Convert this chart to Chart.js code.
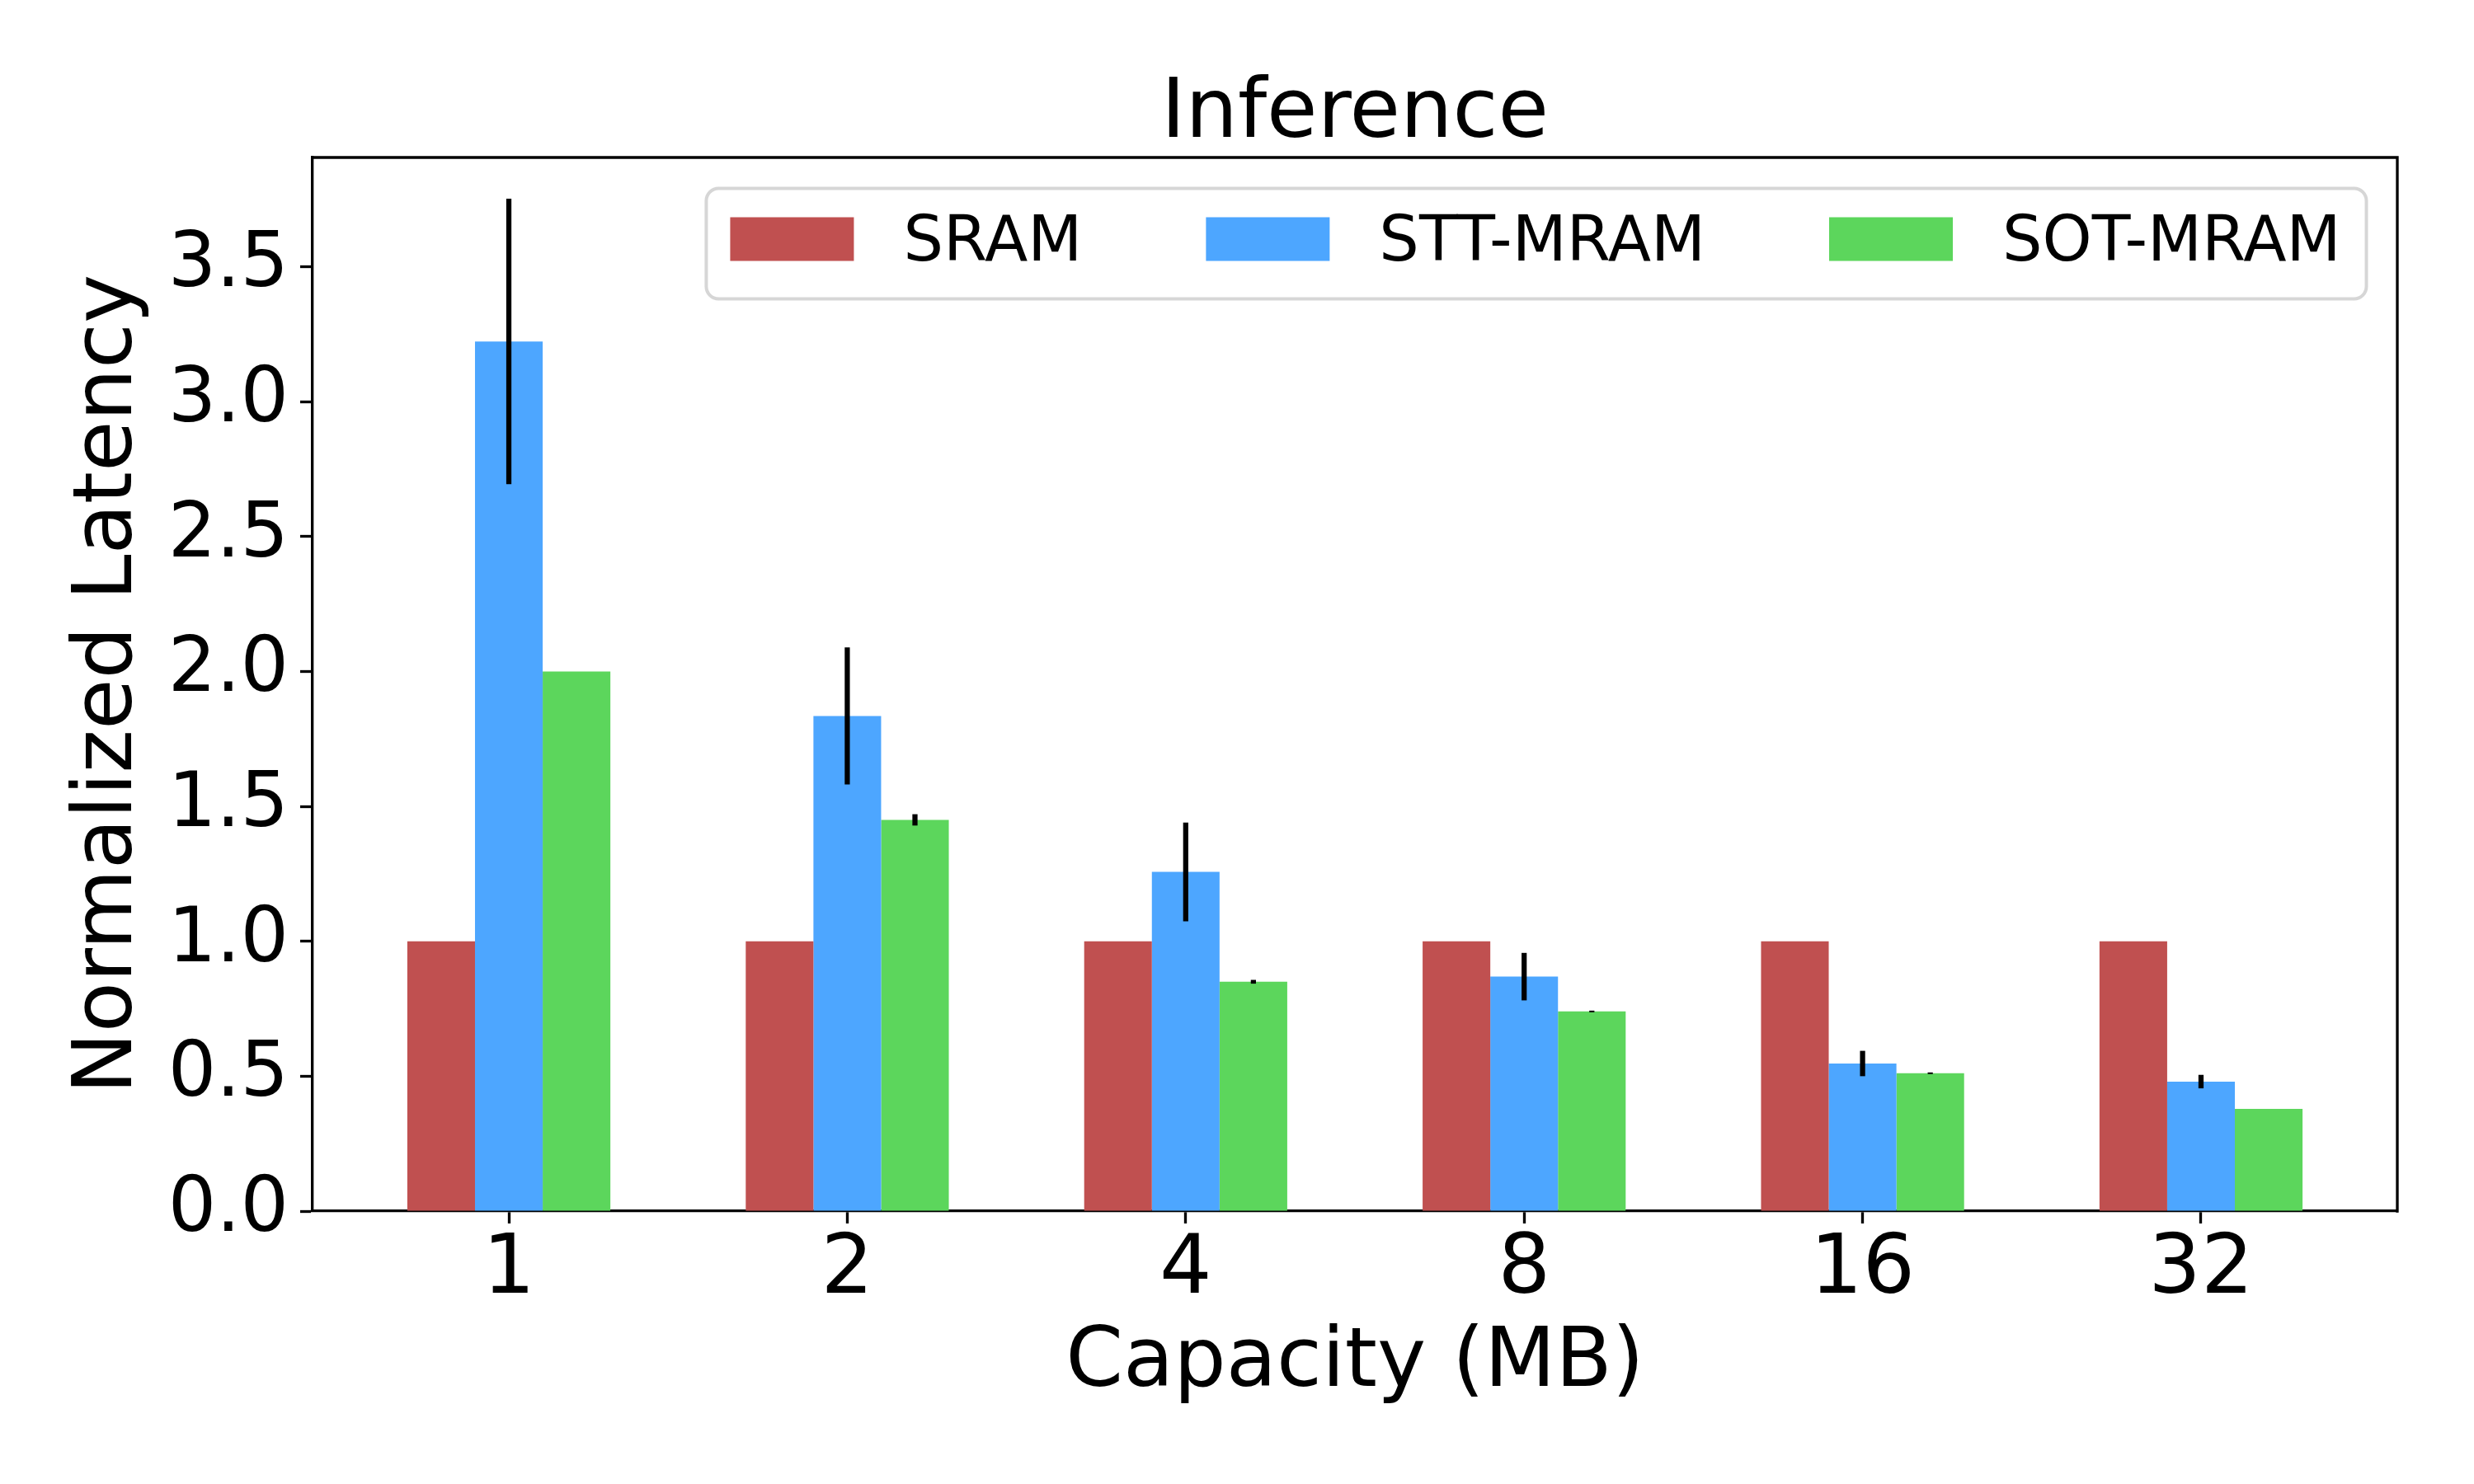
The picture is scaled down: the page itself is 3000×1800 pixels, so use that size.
<!DOCTYPE html>
<html><head><meta charset="utf-8">
<script src="https://cdn.jsdelivr.net/npm/chart.js@4.4.1/dist/chart.umd.min.js"></script>
<style>html,body{margin:0;padding:0;background:#fff}canvas{display:block}</style>
</head><body>
<canvas id="c" width="3000" height="1800" style="width:3000px;height:1800px"></canvas>
<script>
// ---- data ----
const categories = ['1', '2', '4', '8', '16', '32'];
const seriesNames = ['SRAM', 'STT-MRAM', 'SOT-MRAM'];
const sram = [1.0, 1.0, 1.0, 1.0, 1.0, 1.0];
const sramErr = [0, 0, 0, 0, 0, 0];
const stt = [3.223, 1.835, 1.257, 0.869, 0.547, 0.480];
const sttErr = [0.529, 0.254, 0.183, 0.088, 0.047, 0.025];
const sot = [2.0, 1.450, 0.850, 0.740, 0.511, 0.379];
const sotErr = [0, 0.021, 0.007, 0.003, 0.003, 0];
const chartTitle = 'Inference';
const xTitle = 'Capacity (MB)';
const yTitle = 'Normalized Latency';
const yMax = 3.905;

const FONT = "'DejaVu Sans', sans-serif";
Chart.defaults.font.family = FONT;
Chart.defaults.color = '#000';

const colors = ['rgb(192,80,80)', 'rgb(77,166,255)', 'rgb(92,214,92)'];
const values = [sram, stt, sot];
const errs = [sramErr, sttErr, sotErr];

const errorBars = {
  id: 'errorBars',
  afterDatasetsDraw(chart) {
    const ctx = chart.ctx, y = chart.scales.y;
    ctx.save();
    ctx.strokeStyle = '#000';
    ctx.lineWidth = 6.25;
    ctx.lineCap = 'butt';
    chart.data.datasets.forEach((ds, i) => {
      const e = ds.errors;
      if (!e) return;
      const meta = chart.getDatasetMeta(i);
      meta.data.forEach((bar, j) => {
        if (!e[j]) return;
        const v = ds.data[j].y;
        ctx.beginPath();
        ctx.moveTo(bar.x, y.getPixelForValue(v + e[j]));
        ctx.lineTo(bar.x, y.getPixelForValue(v - e[j]));
        ctx.stroke();
      });
    });
    // top & right spines
    const a = chart.chartArea;
    ctx.lineWidth = 3.33;
    ctx.lineCap = 'square';
    ctx.beginPath();
    ctx.moveTo(a.left, a.top);
    ctx.lineTo(a.right, a.top);
    ctx.lineTo(a.right, a.bottom);
    ctx.stroke();
    ctx.restore();
  }
};

const titleAndLegend = {
  id: 'titleAndLegend',
  afterDraw(chart) {
    const ctx = chart.ctx, a = chart.chartArea;
    ctx.save();
    // title
    ctx.font = `100px ${FONT}`;
    ctx.fillStyle = '#000';
    ctx.textAlign = 'center';
    ctx.textBaseline = 'alphabetic';
    ctx.fillText(chartTitle, (a.left + a.right) / 2, 166);
    // legend (upper right, inside axes)
    const fs = 76.5;
    ctx.font = `${fs}px ${FONT}`;
    const handleW = 150, handleH = 53, textPad = 60, colSp = 150;
    const items = [];
    let x = 0;
    chart.data.datasets.forEach(ds => {
      const w = ctx.measureText(ds.label).width;
      items.push({ x, label: ds.label, color: ds.backgroundColor, w });
      x += handleW + textPad + w + colSp;
    });
    const contentW = x - colSp;
    const frameRight = a.right - 37.5;
    const frameLeft = frameRight - (contentW + 29 + 31);
    const startX = frameLeft + 29;
    const frameTop = a.top + 37.5, frameBottom = frameTop + 134;
    ctx.beginPath();
    ctx.roundRect(frameLeft, frameTop, frameRight - frameLeft, frameBottom - frameTop, 15);
    ctx.fillStyle = 'rgba(255,255,255,0.8)';
    ctx.fill();
    ctx.strokeStyle = 'rgba(204,204,204,0.8)';
    ctx.lineWidth = 4;
    ctx.stroke();
    ctx.textAlign = 'left';
    ctx.textBaseline = 'alphabetic';
    items.forEach(it => {
      ctx.fillStyle = it.color;
      ctx.fillRect(startX + it.x, frameTop + 35, handleW, handleH);
      ctx.fillStyle = '#000';
      ctx.fillText(it.label, startX + it.x + handleW + textPad, frameTop + 87);
    });
    ctx.restore();
  }
};

const datasets = seriesNames.map((name, k) => ({
  label: name,
  data: categories.map((_, i) => ({ x: i, y: values[k][i] })),
  errors: errs[k],
  backgroundColor: colors[k],
  borderWidth: 0
}));

new Chart(document.getElementById('c'), {
  type: 'bar',
  data: { datasets },
  plugins: [errorBars, titleAndLegend],
  options: {
    responsive: false,
    animation: false,
    devicePixelRatio: 1,
    layout: { padding: { top: 191, right: 93, left: 0, bottom: 0 } },
    plugins: { legend: { display: false }, title: { display: false }, tooltip: { enabled: false } },
    datasets: { bar: { categoryPercentage: 0.6, barPercentage: 1.0 } },
    scales: {
      x: {
        type: 'linear', min: -0.58, max: 5.58, offset: false,
        afterBuildTicks: s => { s.ticks = categories.map((_, i) => ({ value: i })); },
        afterFit: s => { s.height = 331; },
        ticks: {
          callback: v => categories[v],
          font: { size: 100, lineHeight: 1.0 },
          padding: 8, color: '#000', maxRotation: 0, autoSkip: false
        },
        grid: { display: true, drawOnChartArea: false, drawTicks: true, tickLength: 15, tickWidth: 3.33, tickColor: '#000', offset: false },
        border: { display: true, color: '#000', width: 3.33 },
        title: { display: true, text: xTitle, font: { size: 100 }, color: '#000', padding: { top: 0, bottom: 85 } }
      },
      y: {
        min: 0, max: yMax,
        afterFit: s => { s.width = 379; },
        ticks: {
          stepSize: 0.5, includeBounds: false,
          callback: v => Number(v).toFixed(1),
          font: { size: 92 }, padding: 14, color: '#000'
        },
        grid: { display: true, drawOnChartArea: false, drawTicks: true, tickLength: 15, tickWidth: 3.33, tickColor: '#000' },
        border: { display: true, color: '#000', width: 3.33 },
        title: { display: true, text: yTitle, font: { size: 100 }, color: '#000', padding: { top: 73, bottom: 0 } }
      }
    }
  }
});
</script>
</body></html>
